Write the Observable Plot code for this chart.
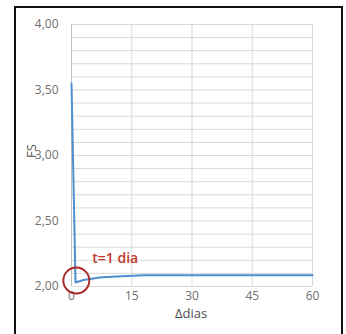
<!DOCTYPE html>
<html>
<head>
<meta charset="utf-8">
<script src="https://cdn.jsdelivr.net/npm/d3@7"></script>
<script src="https://cdn.jsdelivr.net/npm/@observablehq/plot@0.6"></script>
<style>
  html, body { margin: 0; padding: 0; background: #fff; }
  #wrap { position: relative; width: 346px; height: 334px; overflow: hidden; }
  #box { position: absolute; left: 14px; top: 6px; width: 329px; height: 340px;
         border: 2px solid #111; box-sizing: border-box; pointer-events: none; }
</style>
</head>
<body>
<div id="wrap"><div id="box"></div></div>
<script>
// FS versus elapsed days
const days = [0, 1, 2, 3, 5, 7, 10, 14, 18, 30, 45, 60];
const fs   = [3.55, 2.03, 2.04, 2.05, 2.06, 2.068, 2.075, 2.08, 2.085, 2.085, 2.085, 2.085];

const xTicks = [0, 15, 30, 45, 60];
const yTicks = [2.0, 2.5, 3.0, 3.5, 4.0];
const yGrid  = [2.0, 2.1, 2.2, 2.3, 2.4, 2.5, 2.6, 2.7, 2.8, 2.9, 3.0,
                3.1, 3.2, 3.3, 3.4, 3.5, 3.6, 3.7, 3.8, 3.9, 4.0];

// highlighted point and its note
const marker = [{x: 1.2, y: 2.045, label: "t=1 dia"}];

const data = days.map((d, i) => ({d, v: fs[i]}));
const fmt = v => v.toFixed(2).replace(".", ",");

const chart = Plot.plot({
  width: 346,
  height: 334,
  marginLeft: 71,
  marginRight: 34,
  marginTop: 24,
  marginBottom: 48,
  style: {fontFamily: "'Open Sans', sans-serif", fontSize: "11px", color: "#6f6f6f", background: "transparent"},
  x: {domain: [0, 60]},
  y: {domain: [2, 4]},
  marks: [
    Plot.ruleY(yGrid, {stroke: "#d9d9d9", strokeWidth: 1}),
    Plot.ruleX(xTicks, {stroke: "#d9d9d9", strokeWidth: 1}),
    Plot.ruleX([0], {stroke: "#bfbfbf", strokeWidth: 1}),
    Plot.axisX({ticks: xTicks, tickSize: 0, tickPadding: 5, label: null, fontSize: 12}),
    Plot.axisY({ticks: yTicks, tickSize: 0, tickPadding: 13, tickFormat: fmt, label: null, fontSize: 12}),
    Plot.line(data, {x: "d", y: "v", stroke: "#4f8fcf", strokeWidth: 2}),
    Plot.dot(marker, {x: "x", y: "y", r: 13, stroke: "#a92a2a", strokeWidth: 2, fill: "none"}),
    Plot.text(marker, {x: "x", y: "y", text: "label", dx: 16, dy: -22, textAnchor: "start",
                       fill: "#c0392b", fontSize: 14, fontWeight: 600})
  ]
});

const svg = d3.select(chart);
// axis titles
svg.append("text")
  .attr("x", 191).attr("y", 318)
  .attr("text-anchor", "middle")
  .attr("fill", "#505050")
  .style("font-size", "13px")
  .text("Δdias");
svg.append("text")
  .attr("transform", "translate(36,151) rotate(-90)")
  .attr("text-anchor", "middle")
  .attr("fill", "#505050")
  .style("font-size", "13px")
  .text("FS");

document.getElementById("wrap").prepend(chart);
</script>
</body>
</html>
